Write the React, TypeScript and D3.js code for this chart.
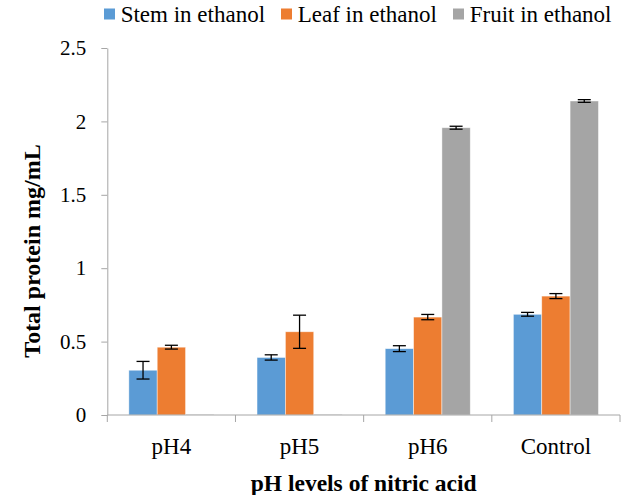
import * as d3 from "d3";
import React, { useEffect, useRef } from "react";

const categories = ["pH4", "pH5", "pH6", "Control"];
const seriesNames = ["Stem in ethanol", "Leaf in ethanol", "Fruit in ethanol"];
const stemValues = [0.305, 0.392, 0.452, 0.686];
const leafValues = [0.462, 0.567, 0.667, 0.81];
const fruitValues = [0.004, 0.004, 1.957, 2.139];
const stemErrors = [0.06, 0.018, 0.02, 0.013];
const leafErrors = [0.013, 0.113, 0.018, 0.017];
const fruitErrors = [0, 0, 0.01, 0.009];
const yTicks = [0, 0.5, 1, 1.5, 2, 2.5];

const colors = ["#5B9BD5", "#ED7D31", "#A5A5A5"];
const axisColor = "#A6A6A6";
const font = "Liberation Serif, Times New Roman, serif";

const width = 631;
const height = 495;
const plot = { left: 107.3, right: 620, top: 48, bottom: 415 };
const legendX = [104, 281, 453];

export default function App() {
  const ref = useRef<SVGGElement>(null);

  useEffect(() => {
    const g = d3.select(ref.current);
    g.selectAll("*").remove();

    const values = [stemValues, leafValues, fruitValues];
    const errors = [stemErrors, leafErrors, fruitErrors];

    const y = d3.scaleLinear().domain([0, 2.5]).range([plot.bottom, plot.top]);
    const x = d3.scaleBand().domain(categories).range([plot.left, plot.right]).padding(0);
    const inner = d3.scaleBand()
      .domain(seriesNames)
      .range([0, x.bandwidth()])
      .paddingInner(0)
      .paddingOuter(0.76);

    // bars
    seriesNames.forEach((name, s) => {
      g.append("g")
        .selectAll("rect")
        .data(categories)
        .enter()
        .append("rect")
        .attr("x", (c) => (x(c) as number) + (inner(name) as number))
        .attr("y", (c, i) => y(values[s][i]))
        .attr("width", inner.bandwidth())
        .attr("height", (c, i) => y(0) - y(values[s][i]))
        .attr("fill", colors[s])
        .attr("stroke", "#ffffff")
        .attr("stroke-opacity", 0.6)
        .attr("stroke-width", 0.75);
    });

    // error bars
    seriesNames.forEach((name, s) => {
      categories.forEach((c, i) => {
        const e = errors[s][i];
        if (!e) return;
        const cx = (x(c) as number) + (inner(name) as number) + inner.bandwidth() / 2;
        const y1 = y(values[s][i] + e);
        const y2 = y(values[s][i] - e);
        const eb = g.append("g").attr("stroke", "#000").attr("stroke-width", 1.3);
        eb.append("line").attr("x1", cx).attr("x2", cx).attr("y1", y1).attr("y2", y2);
        eb.append("line").attr("x1", cx - 6.5).attr("x2", cx + 6.5).attr("y1", y1).attr("y2", y1);
        eb.append("line").attr("x1", cx - 6.5).attr("x2", cx + 6.5).attr("y1", y2).attr("y2", y2);
      });
    });

    // y axis
    const yAxis = g.append("g")
      .attr("transform", "translate(" + plot.left + ",0)")
      .call(d3.axisLeft(y).tickValues(yTicks).tickSize(6).tickSizeOuter(0).tickPadding(15).tickFormat((d) => String(d)));
    yAxis.attr("font-family", font).attr("font-size", 21);
    yAxis.select(".domain").attr("stroke", axisColor);
    yAxis.selectAll(".tick line").attr("stroke", axisColor);
    yAxis.selectAll(".tick text").attr("fill", "#000");

    // x axis, ticks sit on the category boundaries
    const xAxis = g.append("g").attr("font-family", font).attr("font-size", 23);
    xAxis.append("line")
      .attr("x1", plot.left).attr("x2", plot.right)
      .attr("y1", y(0)).attr("y2", y(0))
      .attr("stroke", axisColor);
    const bounds = categories.map((c) => x(c) as number).concat([plot.right]);
    xAxis.selectAll(".xtick")
      .data(bounds)
      .enter()
      .append("line")
      .attr("x1", (d) => d).attr("x2", (d) => d)
      .attr("y1", y(0)).attr("y2", y(0) + 7)
      .attr("stroke", axisColor);
    xAxis.selectAll(".xlabel")
      .data(categories)
      .enter()
      .append("text")
      .attr("x", (c) => (x(c) as number) + x.bandwidth() / 2)
      .attr("y", 454)
      .attr("text-anchor", "middle")
      .text((c) => c);

    // titles
    g.append("text")
      .attr("x", (plot.left + plot.right) / 2)
      .attr("y", 491)
      .attr("text-anchor", "middle")
      .attr("font-family", font)
      .attr("font-size", 23.5)
      .attr("font-weight", "bold")
      .text("pH levels of nitric acid");

    g.append("text")
      .attr("transform", "translate(40,251) rotate(-90)")
      .attr("text-anchor", "middle")
      .attr("font-family", font)
      .attr("font-size", 24)
      .attr("font-weight", "bold")
      .text("Total protein mg/mL");

    // legend
    const legend = g.append("g").attr("font-family", font).attr("font-size", 23);
    seriesNames.forEach((name, s) => {
      legend.append("rect")
        .attr("x", legendX[s]).attr("y", 8.5)
        .attr("width", 11).attr("height", 11)
        .attr("fill", colors[s]);
      legend.append("text")
        .attr("x", legendX[s] + 16.7)
        .attr("y", 21.7)
        .text(name);
    });
  }, []);

  return (
    <svg
      width={width}
      height={height}
      style={{ position: "absolute", left: 0, top: 0, background: "#fff" }}
    >
      <g ref={ref} />
    </svg>
  );
}
